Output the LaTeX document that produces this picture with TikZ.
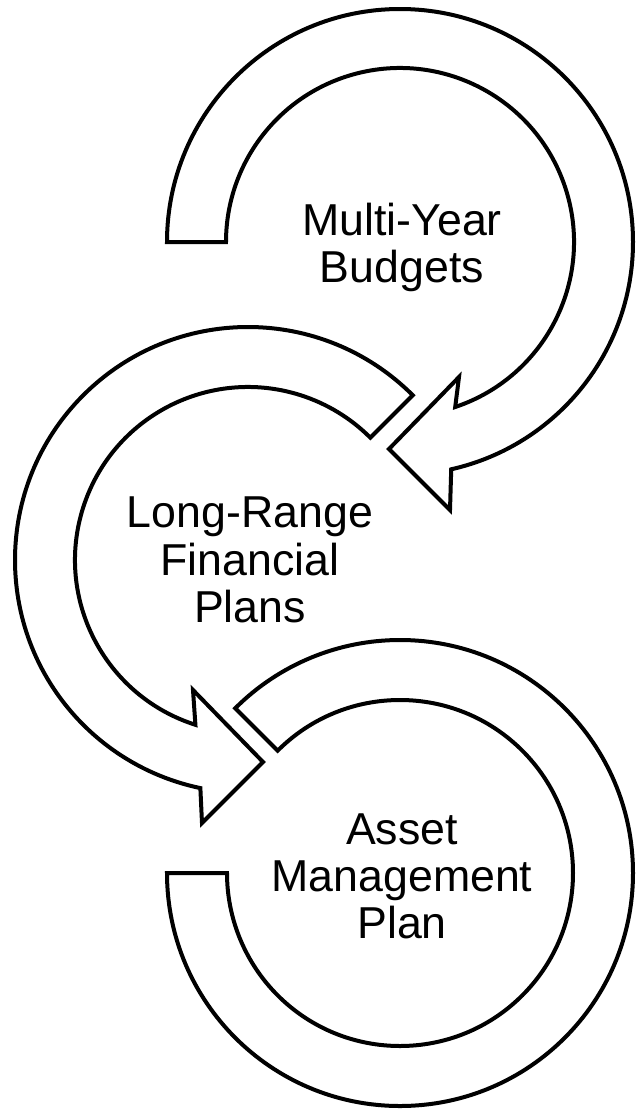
\documentclass[tikz,border=0pt]{standalone}
\usepackage{fontspec}
\setmainfont{Liberation Sans}
\usetikzlibrary{calc}
\begin{document}
\begin{tikzpicture}[x=1pt,y=1pt,
  band/.style={draw=black,line width=4pt,line join=miter,miter limit=10,fill=white},
  lbl/.style={anchor=base,inner sep=0pt,font=\fontsize{44.7}{47}\selectfont}]
\useasboundingbox (0,0) rectangle (636,-1109);
\coordinate (C1) at (400,-242);
\coordinate (C2) at (248,-560);
\coordinate (C3) at (400,-873);
% circle 1
\draw[band] ([shift={(C1)}]180:233) arc[start angle=180,end angle=-77.3,radius=233]
  -- (450,-510) -- (389,-449) -- (459,-377)
  -- ([shift={(C1)}]-71.5:174) arc[start angle=-71.5,end angle=180,radius=174] -- cycle;
% circle 2
\draw[band] ([shift={(C2)}]45:233) arc[start angle=45,end angle=258.2,radius=233]
  -- (202,-823) -- (263,-762) -- (193,-690)
  -- ([shift={(C2)}]252.3:173) arc[start angle=252.3,end angle=45,radius=173] -- cycle;
% circle 3
\draw[band] ([shift={(C3)}]180:233) arc[start angle=180,end angle=495,radius=233]
  -- ([shift={(C3)}]135:173) arc[start angle=135,end angle=-180,radius=173] -- cycle;
% labels
\node[lbl] (t1a) at (402,-235) {Multi-Year};
\node[lbl] (t1b) at (402,-282) {Budgets};
\node[lbl] (t2a) at (250,-527) {Long-Range};
\node[lbl] (t2b) at (250,-575) {Financial};
\node[lbl] (t2c) at (250,-622) {Plans};
\node[lbl] (t3a) at (402,-844) {Asset};
\node[lbl] (t3b) at (402,-891) {Management};
\node[lbl] (t3c) at (402,-938) {Plan};
\end{tikzpicture}
\end{document}
